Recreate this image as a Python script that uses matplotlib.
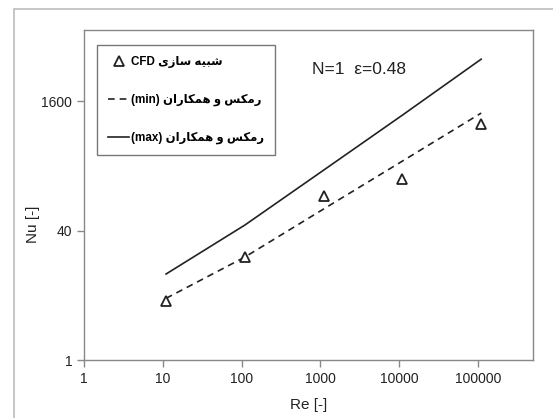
#!/usr/bin/env python3
"""Nu vs Re, N=1 eps=0.48 : CFD vs Ramks et al. min/max"""
import matplotlib
matplotlib.use('Agg')
import matplotlib.pyplot as plt
from matplotlib.patches import Rectangle
from matplotlib.ticker import FixedLocator, NullLocator, FixedFormatter

plt.rcParams['font.family'] = ['Liberation Sans', 'DejaVu Sans']

# data
re_cfd = [11, 110, 1100, 11000, 110000]
nu_cfd = [5.4, 18.8, 107, 174, 830]

re_corr = [11, 110, 1100, 11000, 110000]
nu_min = [5.8, 18.8, 74, 290, 1140]
nu_max = [11.6, 46.8, 224, 1075, 5300]

x_ticks = [1, 10, 100, 1000, 10000, 100000]
y_ticks = [1, 40, 1600]

# Persian labels, pre-shaped (presentation forms, visual order)
fa_cfd = '\uFEEF\uFEAF\uFE8E\uFEB3 \uFEEA\uFEF4\uFE92\uFEB7'          # شبیه سازی
fa_ramks = '\uFEE5\uFE8D\uFEAD\uFE8E\uFB91\uFEE4\uFEEB \uFEED \uFEB2\uFB91\uFEE3\uFEAD'  # رمکس و همکاران
lab_cfd = 'CFD ' + fa_cfd
lab_min = '(min) ' + fa_ramks
lab_max = '(max) ' + fa_ramks

fig = plt.figure(figsize=(5.53, 4.18), dpi=100)
fig.patches.append(Rectangle((14/553, -0.05), 1.0, 1 - 9/418 + 0.05, transform=fig.transFigure,
                             fill=False, edgecolor='#bdbdbd', linewidth=1.2))
ax = fig.add_axes([84/553, 1 - 360/418, (533 - 84)/553, (360 - 30)/418])

ax.plot(re_corr, nu_max, '-', color='#222222', linewidth=1.2, label=lab_max)
ax.plot(re_corr, nu_min, '--', color='#222222', linewidth=1.2, dashes=(4, 3), label=lab_min)
ax.plot(re_cfd, nu_cfd, '^', markerfacecolor='white', markeredgecolor='#222222', markersize=7,
        markeredgewidth=1.3, linestyle='none', label=lab_cfd)

ax.set_xscale('log')
ax.set_yscale('log', base=40)
ax.set_xlim(1, 5e5)
ax.set_ylim(1, 40 ** 2.55)
ax.xaxis.set_major_locator(FixedLocator(x_ticks))
ax.xaxis.set_major_formatter(FixedFormatter([str(v) for v in x_ticks]))
ax.yaxis.set_major_locator(FixedLocator(y_ticks))
ax.yaxis.set_major_formatter(FixedFormatter([str(v) for v in y_ticks]))
ax.xaxis.set_minor_locator(NullLocator())
ax.yaxis.set_minor_locator(NullLocator())
ax.tick_params(direction='out', length=5, width=1, color='#888888', labelsize=10, labelcolor='#222222')
for s in ax.spines.values():
    s.set_color('#888888')
    s.set_linewidth(1)

ax.set_xlabel('Re [-]', fontsize=11, color='#222222')
ax.xaxis.set_label_coords(0.5, -38/330)
ax.set_ylabel('Nu [-]', fontsize=11, color='#222222')
ax.yaxis.set_label_coords(-44/449, 0.41)

fig.text(312/553, 1 - 70/418, 'N=1  \u03b5=0.48', fontsize=12.5, color='#222222', va='center')

h, l = ax.get_legend_handles_labels()
order = [2, 1, 0]
leg = ax.legend([h[i] for i in order], [l[i] for i in order], loc='upper left',
                bbox_to_anchor=(13/449, 1 - 15/330), handlelength=1.8,
                handletextpad=0.15, labelspacing=2.2, borderpad=0.95, borderaxespad=0,
                frameon=True, fancybox=False, prop={'weight': 'bold', 'size': 8.4})
leg.get_frame().set_edgecolor('#555555')
leg.get_frame().set_linewidth(1)

plt.savefig('out.png', dpi=100)
